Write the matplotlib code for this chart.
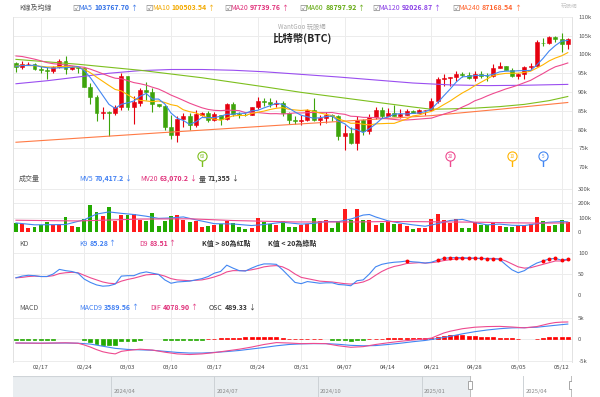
import matplotlib
matplotlib.use("Agg")
import matplotlib.pyplot as plt
import matplotlib.dates as mdates
import matplotlib.transforms as mtrans
from matplotlib.patches import Rectangle
import numpy as np
import pandas as pd

plt.rcParams["font.family"] = ["Noto Sans CJK TC", "DejaVu Sans"]

W, H = 600, 397

# ---- data: daily BTC candles, prices in k USD ----
dates = pd.date_range("2025-02-13", "2025-05-13", freq="D")

opens = [97.8, 96.6, 97.5, 97.6, 96.1, 95.8, 95.5, 96.6, 98.3, 96.1,
         96.6, 96.3, 91.4, 88.7, 84.3, 84.7, 84.4, 86.0, 94.3, 86.1,
         87.2, 90.6, 89.9, 86.7, 86.2, 80.7, 78.5, 82.9, 83.7, 81.1,
         84.0, 84.3, 82.6, 84.0, 82.7, 86.8, 84.2, 84.0, 83.8, 86.1,
         87.5, 87.4, 86.9, 87.2, 84.4, 82.6, 82.3, 82.5, 85.2, 82.5,
         83.1, 83.8, 83.5, 78.2, 79.2, 76.3, 82.6, 79.6, 83.4, 85.3,
         83.7, 84.5, 83.6, 84.0, 84.9, 84.5, 85.1, 85.2, 87.5, 93.4,
         93.7, 93.9, 94.7, 94.6, 93.8, 94.9, 94.3, 94.2, 96.5, 96.9,
         95.9, 94.3, 94.7, 96.8, 97.0, 103.2, 103.0, 104.7, 104.1, 102.8]
highs = [97.9, 98.4, 97.9, 97.7, 97.0, 96.7, 96.9, 98.8, 99.5, 96.9,
         96.7, 96.5, 92.4, 89.3, 86.0, 85.0, 86.5, 95.0, 94.4, 88.9,
         91.0, 92.7, 91.2, 86.9, 86.5, 83.9, 83.6, 84.3, 84.3, 85.3,
         84.7, 85.0, 84.7, 84.0, 87.0, 87.4, 84.8, 84.5, 86.1, 88.8,
         88.5, 88.3, 87.8, 87.5, 84.6, 83.5, 83.9, 85.5, 88.5, 83.9,
         84.7, 84.2, 83.8, 81.2, 80.8, 83.5, 82.7, 84.2, 85.9, 86.1,
         85.8, 86.5, 85.5, 85.4, 85.1, 85.6, 85.3, 88.5, 93.9, 94.7,
         94.0, 95.7, 95.3, 95.3, 95.6, 95.5, 95.2, 97.4, 97.9, 96.9,
         96.3, 95.2, 96.9, 97.7, 104.0, 104.3, 104.9, 104.9, 105.8, 104.5]
lows = [95.3, 96.2, 97.2, 96.0, 95.2, 93.4, 95.2, 96.4, 94.8, 95.8,
        95.2, 91.3, 86.9, 82.3, 82.8, 78.3, 83.8, 85.1, 85.2, 81.5,
        86.3, 87.8, 84.7, 85.9, 80.0, 77.4, 76.6, 80.6, 80.0, 80.8,
        83.6, 82.0, 82.4, 81.2, 82.6, 83.7, 83.2, 83.7, 83.8, 85.5,
        86.3, 85.9, 85.9, 83.6, 81.6, 81.6, 81.3, 82.4, 82.3, 81.2,
        81.7, 82.4, 77.2, 74.5, 76.2, 74.6, 78.5, 78.9, 82.8, 83.0,
        83.7, 83.6, 83.1, 83.8, 84.3, 84.4, 83.9, 85.1, 87.1, 91.7,
        91.7, 92.9, 93.9, 93.6, 92.9, 93.8, 92.9, 94.1, 96.3, 95.8,
        94.1, 93.5, 93.4, 95.9, 96.9, 102.3, 102.8, 103.4, 100.7, 101.5]
closes = [96.6, 97.5, 97.6, 96.1, 95.8, 95.5, 96.6, 98.3, 96.1, 96.6,
          96.3, 91.4, 88.7, 84.3, 84.7, 84.4, 86.0, 94.3, 86.1, 87.2,
          90.6, 89.9, 86.7, 86.2, 80.7, 78.5, 82.9, 83.7, 81.1, 84.0,
          84.3, 82.6, 84.0, 82.7, 86.8, 84.2, 84.0, 83.8, 86.1, 87.5,
          87.4, 86.9, 87.2, 84.4, 82.6, 82.3, 82.5, 85.2, 82.5, 83.1,
          83.8, 83.5, 78.2, 79.2, 76.3, 82.6, 79.6, 83.4, 85.3, 83.7,
          84.5, 83.6, 84.0, 84.9, 84.5, 85.1, 85.2, 87.5, 93.4, 93.7,
          93.9, 94.7, 94.6, 93.8, 94.9, 94.3, 94.2, 96.5, 96.9, 95.9,
          94.3, 94.7, 96.8, 97.0, 103.2, 103.0, 104.7, 104.1, 102.8, 104.0]

ma5 = [96.84, 97.04, 97.08, 97.14, 96.72, 96.5, 96.32, 96.46, 96.46, 96.62,
       96.78, 95.74, 93.82, 91.46, 89.08, 86.7, 85.62, 86.74, 87.1, 87.6,
       88.84, 89.62, 88.1, 88.12, 86.82, 84.4, 83.0, 82.4, 81.38, 82.04,
       83.2, 83.14, 83.2, 83.52, 84.08, 84.06, 84.34, 84.3, 84.98, 85.12,
       85.76, 86.34, 87.02, 86.68, 85.7, 84.68, 83.8, 83.4, 83.02, 83.12,
       83.42, 83.62, 82.22, 81.56, 80.2, 79.96, 79.18, 80.22, 81.44, 82.92,
       83.3, 84.1, 84.22, 84.14, 84.3, 84.42, 84.74, 85.44, 87.14, 88.98,
       90.74, 92.64, 94.06, 94.14, 94.38, 94.46, 94.36, 94.74, 95.36, 95.56,
       95.56, 95.66, 95.72, 95.74, 97.2, 98.94, 100.94, 102.4, 103.56, 103.77]
ma10 = [96.92, 97.12, 97.04, 97.02, 96.86, 96.67, 96.68, 96.77, 96.8, 96.67,
        96.64, 96.03, 95.14, 93.96, 92.85, 91.74, 90.68, 90.28, 89.28, 88.34,
        87.77, 87.62, 87.42, 87.61, 87.21, 86.62, 86.31, 85.25, 84.75, 84.43,
        83.8, 83.07, 82.8, 82.45, 83.06, 83.63, 83.74, 83.75, 84.25, 84.6,
        84.91, 85.34, 85.66, 85.83, 85.41, 85.22, 85.07, 85.21, 84.85, 84.41,
        84.05, 83.71, 82.81, 82.29, 81.66, 81.69, 81.4, 81.22, 81.5, 81.56,
        81.63, 81.64, 82.22, 82.79, 83.61, 83.86, 84.42, 84.83, 85.64, 86.64,
        87.58, 88.69, 89.75, 90.64, 91.68, 92.6, 93.5, 94.4, 94.75, 94.97,
        95.01, 95.01, 95.23, 95.55, 96.38, 97.25, 98.3, 99.06, 99.65, 100.5]
ma20 = [99.61, 99.46, 99.12, 98.76, 98.33, 97.84, 97.54, 97.39, 97.2, 96.99,
        96.78, 96.58, 96.09, 95.49, 94.86, 94.21, 93.68, 93.53, 93.04, 92.51,
        92.21, 91.83, 91.28, 90.79, 90.03, 89.18, 88.5, 87.77, 87.02, 86.39,
        85.79, 85.35, 85.11, 85.03, 85.14, 85.13, 85.03, 84.5, 84.5, 84.52,
        84.36, 84.21, 84.23, 84.14, 84.24, 84.43, 84.41, 84.48, 84.55, 84.51,
        84.48, 84.53, 84.24, 84.06, 83.54, 83.46, 83.24, 83.22, 83.18, 82.99,
        82.84, 82.68, 82.52, 82.54, 82.64, 82.78, 82.91, 83.03, 83.57, 84.1,
        84.61, 85.17, 85.99, 86.72, 87.65, 88.23, 88.96, 89.62, 90.2, 90.81,
        91.3, 91.85, 92.49, 93.1, 94.03, 94.93, 95.9, 96.73, 97.2, 97.74]
ma60_idx = [0, 10, 20, 30, 40, 46, 52, 58, 64, 67, 70, 74, 78, 82, 86, 89]
ma60 = [98.7, 97.4, 95.8, 93.8, 91.4, 89.9, 88.6, 87.3, 86.0, 85.4, 85.5, 85.7, 86.1, 86.7, 87.7, 88.8]
ma120_idx = [0, 5, 10, 15, 20, 25, 30, 35, 40, 46, 52, 58, 64, 70, 76, 82, 89]
ma120 = [92.2, 93.0, 94.0, 95.0, 95.7, 96.0, 96.0, 95.8, 95.4, 94.7, 94.0, 93.2, 92.4, 91.9, 91.7, 91.8, 92.03]
ma240_idx = [0, 23, 46, 67, 78, 89]
ma240 = [76.6, 79.1, 81.5, 83.7, 85.4, 87.2]

# volume in k BTC
volume = [63, 57, 27, 32, 50, 68, 50, 57, 102, 41,
          34, 91, 186, 141, 109, 177, 75, 120, 120, 125,
          86, 79, 132, 39, 75, 113, 118, 86, 73, 75,
          34, 45, 50, 57, 79, 64, 34, 23, 27, 95,
          68, 57, 52, 79, 34, 34, 52, 57, 98, 75,
          84, 30, 75, 159, 86, 163, 86, 86, 50, 64,
          73, 57, 57, 41, 23, 30, 30, 91, 125, 86,
          61, 91, 30, 30, 68, 52, 52, 68, 45, 34,
          34, 52, 52, 57, 102, 79, 45, 52, 86, 71.4]
mv5_idx = [0, 3, 8, 11, 13, 15, 17, 19, 21, 23, 25, 27, 29, 32, 35, 38, 40, 43, 46, 48,
           50, 52, 54, 56, 57, 58, 60, 62, 64, 66, 68, 70, 72, 74, 76, 78, 80, 82, 84, 86, 88, 89]
mv5 = [63, 50, 52, 85, 125, 140, 130, 122, 110, 95, 98, 105, 85, 58, 56, 45, 52, 68, 55, 60,
       73, 72, 90, 118, 122, 105, 78, 62, 50, 40, 58, 80, 88, 65, 50, 55, 47, 45, 58, 68, 73, 70.4]
mv20_idx = [0, 10, 20, 28, 35, 45, 55, 60, 65, 70, 75, 80, 85, 89]
mv20 = [82, 77, 90, 92, 80, 70, 70, 73, 72, 70, 68, 64, 62, 63.1]

# KD
k9 = [41, 45, 47, 46, 44, 44, 50, 61, 58, 56,
      52, 38, 30, 24, 21, 22, 26, 45, 46, 46,
      52, 55, 52, 49, 36, 28, 31, 32, 33, 36,
      39, 44, 52, 56, 71, 64, 58, 57, 64, 70,
      74, 74, 73, 60, 45, 30, 27, 32, 30, 28,
      29, 29, 25, 24, 22, 34, 36, 50, 67, 73,
      76, 78, 79, 81, 79, 78, 76, 78, 83, 87,
      89, 89, 89, 88, 88, 87, 86, 86, 85, 72,
      60, 53, 58, 68, 76, 81, 86, 87, 83, 85.28]
d9 = [41, 42, 44, 45, 44, 44, 46, 51, 53, 54,
      53, 47, 41, 36, 31, 28, 27, 33, 37, 40,
      44, 48, 49, 49, 45, 39, 36, 35, 34, 35,
      36, 39, 43, 48, 55, 58, 58, 58, 60, 63,
      67, 69, 70, 67, 60, 50, 42, 39, 36, 33,
      32, 31, 29, 27, 26, 28, 31, 37, 47, 56,
      63, 68, 71, 75, 76, 77, 76, 77, 79, 82,
      84, 86, 87, 87, 87, 87, 87, 87, 86, 81,
      74, 67, 64, 65, 69, 73, 77, 81, 81, 83.51]

# MACD in k
dif_idx = [0, 4, 8, 10, 11, 12, 13, 14, 15, 16, 17, 18, 20, 22, 24, 26, 28, 30, 32, 34,
           36, 38, 40, 42, 44, 46, 48, 50, 52, 54, 56, 58, 60, 62, 64, 66, 67, 68, 69, 70,
           72, 74, 76, 78, 80, 82, 84, 85, 86, 87, 88, 89]
dif = [-0.85, -0.9, -0.8, -0.9, -1.3, -1.8, -2.4, -2.9, -3.2, -3.4, -2.8, -2.6, -2.3, -2.5, -3.0, -3.4, -3.55, -3.4, -3.1, -2.7,
       -2.3, -1.8, -1.2, -0.75, -0.85, -1.0, -0.95, -1.0, -1.5, -1.85, -1.7, -1.2, -0.8, -0.45, -0.15, 0.1, 0.3, 0.9, 1.5, 1.9,
       2.5, 2.85, 3.0, 3.05, 2.9, 2.7, 3.0, 3.35, 3.7, 3.95, 4.05, 4.08]
macd9_idx = [0, 4, 8, 10, 12, 14, 16, 18, 20, 22, 24, 26, 28, 30, 32, 34, 36, 38, 40, 42, 44, 46,
             48, 50, 52, 54, 56, 58, 60, 62, 64, 66, 68, 70, 72, 74, 76, 78, 80, 82, 84, 86, 88, 89]
macd9 = [-0.85, -0.9, -0.85, -0.9, -1.1, -1.6, -2.1, -2.35, -2.45, -2.55, -2.8, -3.05, -3.2, -3.2, -3.05, -2.85, -2.6, -2.25, -1.9, -1.5, -1.2, -1.05,
         -1.0, -1.0, -1.15, -1.4, -1.5, -1.45, -1.2, -0.9, -0.55, -0.25, 0.2, 0.7, 1.3, 1.8, 2.2, 2.5, 2.7, 2.75, 2.85, 3.15, 3.45, 3.59]
osc = [-0.15, -0.15, -0.15, -0.15, -0.15, -0.15, -0.15, 0, 0, 0,
       0, -0.2, -0.6, -1.0, -1.2, -1.35, -1.35, -0.45, -0.35, -0.3,
       -0.2, 0, 0, 0, -0.15, -0.2, -0.25, -0.25, -0.25, -0.2,
       -0.15, 0.1, 0.15, 0.25, 0.3, 0.35, 0.4, 0.45, 0.5, 0.55,
       0.6, 0.6, 0.5, 0.35, 0.2, 0.1, 0.1, 0.1, 0.1, 0.1,
       0, -0.1, -0.15, -0.25, -0.3, -0.25, -0.2, 0.1, 0.15, 0.2,
       0.25, 0.3, 0.3, 0.35, 0.35, 0.35, 0.35, 0.4, 0.6, 0.85,
       1.0, 1.0, 0.95, 0.85, 0.7, 0.55, 0.5, 0.45, 0.4, 0.35,
       0.3, 0.2, 0, 0, 0.2, 0.3, 0.45, 0.55, 0.5, 0.49]

tick_labels = ["02/17", "02/24", "03/03", "03/10", "03/17", "03/24", "03/31",
               "04/07", "04/14", "04/21", "04/28", "05/05", "05/12"]
price_ticks = [70, 75, 80, 85, 90, 95, 100, 105, 110]
marker_periods = [60, 20, 10, 5]

nav_quarters = ["2024-04-01", "2024-07-01", "2024-10-01", "2025-01-01", "2025-04-01"]
nav_labels = ["2024/04", "2024/07", "2024/10", "2025/01", "2025/04"]

# ---- colours ----
RED, GREEN = "#e5000f", "#3ea40b"
BLUE, YEL, PINK = "#4286f2", "#ffb400", "#ee4a8f"
C60, C120, C240 = "#7dbf1e", "#9a4ef0", "#ff7a45"

fig = plt.figure(figsize=(6, 3.97), dpi=100)


def px_axes(x0, y0, x1, y1):
    return fig.add_axes([x0 / W, 1 - y1 / H, (x1 - x0) / W, (y1 - y0) / H])


x = np.arange(len(dates))
day_labels = list(dates.strftime("%m/%d"))
tick_pos = [day_labels.index(t) for t in tick_labels]


def style(ax, ylim, yticks, ylabels):
    ax.set_xlim(-0.48, 89.68)
    ax.set_ylim(*ylim)
    ax.set_xticks(tick_pos)
    ax.set_xticklabels([])
    ax.set_yticks(yticks)
    ax.set_yticklabels(ylabels)
    ax.yaxis.tick_right()
    ax.tick_params(length=0)
    ax.tick_params(axis="y", pad=4.5, labelsize=4.3, labelcolor="#555555")
    ax.grid(True, color="#ececec", lw=0.7)
    ax.set_axisbelow(True)
    ax.spines["top"].set_visible(False)
    ax.spines["bottom"].set_visible(False)
    for s in ("left", "right"):
        ax.spines[s].set_color("#e2e2e2")
        ax.spines[s].set_linewidth(0.7)
    ax.patch.set_alpha(0)


up = [c >= o for o, c in zip(opens, closes)]
cols = [RED if u else GREEN for u in up]

# main price panel
ax = px_axes(13, 17, 572, 167)
style(ax, (70, 110), price_ticks, [f"{p}k" for p in price_ticks])
ax.vlines(x, lows, highs, colors=cols, lw=0.8, zorder=2)
ax.bar(x, [c - o for o, c in zip(opens, closes)], bottom=opens, width=0.62,
       color=cols, edgecolor=cols, lw=0.4, zorder=2)
ax.plot(ma240_idx, ma240, color=C240, lw=0.8, zorder=3)
ax.plot(ma120_idx, ma120, color=C120, lw=0.8, zorder=3)
ax.plot(ma60_idx, ma60, color=C60, lw=0.8, zorder=3)
ax.plot(x, ma20, color=PINK, lw=0.8, zorder=3)
ax.plot(x, ma10, color=YEL, lw=0.8, zorder=3)
ax.plot(x, ma5, color=BLUE, lw=0.8, zorder=3)

trans = mtrans.blended_transform_factory(ax.transData, ax.transAxes)
for n, c in zip(marker_periods, [C60, PINK, YEL, BLUE]):
    xi = len(dates) - n
    ax.plot([xi, xi], [0, 0.05], transform=trans, color=c, lw=1.0, zorder=4)
    ax.plot([xi], [0.073], transform=trans, marker="o", ms=6.6, mfc="white",
            mec=c, mew=0.8, zorder=5)
    ax.text(xi, 0.073, str(n), transform=trans, ha="center", va="center",
            fontsize=3.3, color=c, zorder=6)

# volume panel
axv = px_axes(13, 167, 572, 232)
style(axv, (0, 453), [0, 100, 200, 300], ["0", "100k", "200k", "300k"])
axv.bar(x, volume, width=0.62, color=["#ff1a1a" if u else "#22aa00" for u in up], zorder=2)
axv.plot(mv5_idx, mv5, color=BLUE, lw=0.8, zorder=3)
axv.plot(mv20_idx, mv20, color=PINK, lw=0.8, zorder=3)

# KD panel
axk = px_axes(13, 232, 572, 295)
style(axk, (0, 150), [0, 50, 100], ["0", "50", "100"])
axk.plot(x, d9, color=PINK, lw=0.8, zorder=3)
axk.plot(x, k9, color=BLUE, lw=0.8, zorder=3)
hi = [(i, k) for i, k in zip(x, k9) if k > 80]
lo = [(i, k) for i, k in zip(x, k9) if k < 20]
if hi:
    axk.scatter([p[0] for p in hi], [p[1] for p in hi], s=8, color="#ff0000", zorder=4, lw=0)
if lo:
    axk.scatter([p[0] for p in lo], [p[1] for p in lo], s=8, color="#22aa00", zorder=4, lw=0)

# MACD panel
axm = px_axes(13, 295, 572, 362)
style(axm, (-5.3, 10.4), [-5, 0, 5], ["-5k", "0", "5k"])
ox = [i for i, v in zip(x, osc) if v != 0]
ov = [v for v in osc if v != 0]
oc = ["#ff0000" if v > 0 else "#22aa00" for v in ov]
axm.bar(ox, ov, width=0.62, color=oc, edgecolor=oc, lw=0.5, zorder=2)
axm.plot(macd9_idx, macd9, color=BLUE, lw=0.8, zorder=3)
axm.plot(dif_idx, dif, color=PINK, lw=0.8, zorder=3)
axm.set_xticklabels(tick_labels)
axm.tick_params(axis="x", labelbottom=True, labelsize=4.3, pad=2.5, labelcolor="#444444")

# navigator
nav = px_axes(13, 376, 572, 397)
n0 = mdates.date2num(pd.Timestamp("2024-01-05"))
n1 = mdates.date2num(pd.Timestamp("2025-05-14"))
w0 = mdates.date2num(dates[0]) - 0.5
nav.set_xlim(n0, n1)
nav.set_ylim(0, 1)
nav.axis("off")
nav.add_patch(Rectangle((n0, 0), w0 - n0, 1, facecolor="#e9edf0", edgecolor="none"))
nav.plot([n0, w0], [0.995, 0.995], color="#cfd4d8", lw=0.8)
for q, lab in zip(nav_quarters, nav_labels):
    qn = mdates.date2num(pd.Timestamp(q))
    nav.plot([qn, qn], [0, 1], color="#cdd2d6", lw=0.7)
    nav.text(qn + 2, 0.28, lab, fontsize=4.2, color="#888888", va="center", ha="left")
for hx in (w0, n1 - 1.0):
    nav.plot([hx, hx], [0, 1], color="#bdbdbd", lw=0.7)
    nav.add_patch(Rectangle((hx - 1.6, 0.38), 3.2, 0.38, facecolor="white",
                            edgecolor="#999999", lw=0.6, zorder=5))

# ---- header / legend text ----
r = fig.canvas.get_renderer()


def put(xp, yp, parts, size=5):
    for txt, color, weight, gap in parts:
        t = fig.text(xp / W, 1 - yp / H, txt, color=color, fontweight=weight,
                     fontsize=size, ha="left", va="center")
        xp += t.get_window_extent(renderer=r).width + gap


put(19, 8, [("K線及均線", "#555555", "normal", 0)])
header = [(72, "MA5", "103767.70", "#2e6ee6"), (145.6, "MA10", "100503.54", "#f2a900"),
          (224, "MA20", "97739.76", "#e0307a"), (299, "MA60", "88797.92", "#62a80e"),
          (372, "MA120", "92026.87", "#8a3fe6"), (452, "MA240", "87168.54", "#ff6630")]
for hx, name, val, c in header:
    fig.text(hx / W, 1 - 8 / H, "☑", fontsize=6, color="#777777", ha="left", va="center")
    put(hx + 6.5, 8, [(name, c, "normal", 2), (val, c, "bold", 0.3), ("↑", c, "normal", 0)])

# site logo, top right
fig.text(569 / W, 1 - 6 / H, "玩股網", fontsize=4, color="#c8c8c8", ha="center", va="center")
fig.text(302 / W, 1 - 27 / H, "WantGoo 玩股網", fontsize=4.5, color="#aaaaaa", ha="center", va="center")
fig.text(302 / W, 1 - 38.5 / H, "比特幣(BTC)", fontsize=7.5, fontweight="bold",
         color="#222222", ha="center", va="center")

put(19, 179, [("成交量", "#555555", "normal", 0)])
put(79, 179, [("MV5", "#3d7df2", "normal", 2), ("70,417.2", "#3d7df2", "bold", 0.3), ("↓", "#3d7df2", "normal", 0)])
put(140.5, 179, [("MV20", "#e0307a", "normal", 2), ("63,070.2", "#e0307a", "bold", 0.3), ("↓", "#e0307a", "normal", 0)])
put(199, 179, [("量", "#333333", "normal", 2), ("71,355", "#333333", "bold", 0.3), ("↓", "#333333", "normal", 0)])

put(19, 243.5, [("KD", "#555555", "normal", 0)])
put(79, 243.5, [("K9", "#3d7df2", "normal", 2), ("85.28", "#3d7df2", "bold", 0.3), ("↑", "#3d7df2", "normal", 0)])
put(139, 243.5, [("D9", "#e0307a", "normal", 2), ("83.51", "#e0307a", "bold", 0.3), ("↑", "#e0307a", "normal", 0)])
put(201.5, 243.5, [("K值 > 80為紅點", "#333333", "bold", 0)])
put(268, 243.5, [("K值 < 20為綠點", "#333333", "bold", 0)])

put(19, 307.5, [("MACD", "#555555", "normal", 0)])
put(79, 307.5, [("MACD9", "#3d7df2", "normal", 2), ("3589.56", "#3d7df2", "bold", 0.3), ("↑", "#3d7df2", "normal", 0)])
put(150, 307.5, [("DIF", "#e0307a", "normal", 2), ("4078.90", "#e0307a", "bold", 0.3), ("↑", "#e0307a", "normal", 0)])
put(209, 307.5, [("OSC", "#333333", "normal", 2), ("489.33", "#333333", "bold", 0.3), ("↓", "#333333", "normal", 0)])

fig.savefig("out.png", dpi=100, facecolor="white")
